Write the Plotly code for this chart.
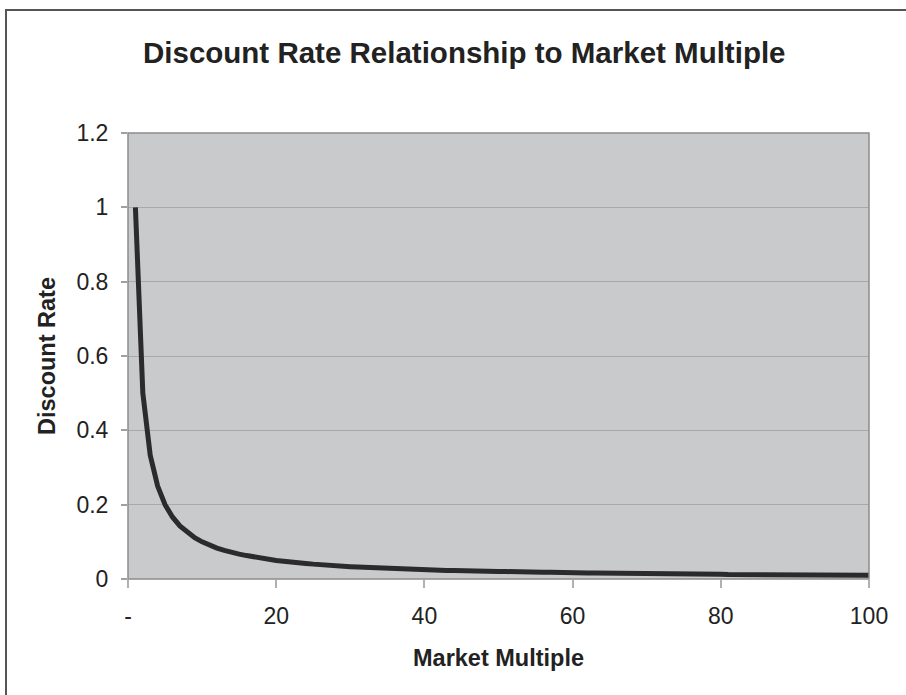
import plotly.graph_objects as go

# Market multiple (x) and the matching discount rate (y)
multiples = list(range(1, 101))
discount_rate = [
    1.0, 0.5, 0.333, 0.25, 0.2, 0.167, 0.143, 0.125, 0.111, 0.1,
    0.091, 0.083, 0.077, 0.071, 0.067, 0.063, 0.059, 0.056, 0.053, 0.05,
    0.048, 0.045, 0.043, 0.042, 0.04, 0.038, 0.037, 0.036, 0.034, 0.033,
    0.032, 0.031, 0.030, 0.029, 0.029, 0.028, 0.027, 0.026, 0.026, 0.025,
    0.024, 0.024, 0.023, 0.023, 0.022, 0.022, 0.021, 0.021, 0.020, 0.020,
    0.020, 0.019, 0.019, 0.019, 0.018, 0.018, 0.018, 0.017, 0.017, 0.017,
    0.016, 0.016, 0.016, 0.016, 0.015, 0.015, 0.015, 0.015, 0.014, 0.014,
    0.014, 0.014, 0.014, 0.014, 0.013, 0.013, 0.013, 0.013, 0.013, 0.013,
    0.012, 0.012, 0.012, 0.012, 0.012, 0.012, 0.011, 0.011, 0.011, 0.011,
    0.011, 0.011, 0.011, 0.011, 0.011, 0.010, 0.010, 0.010, 0.010, 0.010,
]

x_tick_vals = [0, 20, 40, 60, 80, 100]
x_tick_text = ["-", "20", "40", "60", "80", "100"]
y_tick_vals = [0, 0.2, 0.4, 0.6, 0.8, 1.0, 1.2]
y_tick_text = ["0", "0.2", "0.4", "0.6", "0.8", "1", "1.2"]

W, H = 906, 695
ML, MR, MT, MB = 128, 37, 133, 116
PW, PH = W - ML - MR, H - MT - MB

FONT = "Liberation Sans, Arial, sans-serif"
TEXT = "#222222"

fig = go.Figure()
fig.add_trace(go.Scatter(
    x=multiples, y=discount_rate, mode="lines",
    line=dict(color="#2b2b2d", width=5),
    hoverinfo="x+y", showlegend=False,
))

def px_to_paper_x(px):
    return (px - ML) / PW

def px_to_paper_y(py):
    return (H - MB - py) / PH

shapes = [
    # plot-area frame
    dict(type="rect", xref="paper", yref="paper", x0=0, y0=0, x1=1, y1=1,
         line=dict(color="#8c8c8c", width=1.5), layer="above"),
    # outer chart border (left and top edges)
    dict(type="line", xref="paper", yref="paper",
         x0=px_to_paper_x(6), x1=px_to_paper_x(6),
         y0=px_to_paper_y(10), y1=px_to_paper_y(H + 5),
         line=dict(color="#555555", width=2)),
    dict(type="line", xref="paper", yref="paper",
         x0=px_to_paper_x(5), x1=px_to_paper_x(W + 5),
         y0=px_to_paper_y(10), y1=px_to_paper_y(10),
         line=dict(color="#555555", width=2)),
]

annotations = [
    dict(text="<b>Discount Rate Relationship to Market Multiple</b>",
         xref="paper", yref="paper",
         x=px_to_paper_x(464), y=px_to_paper_y(52),
         xanchor="center", yanchor="middle", showarrow=False,
         font=dict(family=FONT, size=29.5, color=TEXT)),
    dict(text="<b>Market Multiple</b>",
         xref="paper", yref="paper",
         x=px_to_paper_x(499), y=px_to_paper_y(658),
         xanchor="center", yanchor="middle", showarrow=False,
         font=dict(family=FONT, size=23.5, color=TEXT)),
    dict(text="<b>Discount Rate</b>", textangle=-90,
         xref="paper", yref="paper",
         x=px_to_paper_x(47), y=px_to_paper_y(356),
         xanchor="center", yanchor="middle", showarrow=False,
         font=dict(family=FONT, size=23.5, color=TEXT)),
]

fig.update_layout(
    width=W, height=H,
    margin=dict(l=ML, r=MR, t=MT, b=MB, pad=0),
    paper_bgcolor="white",
    plot_bgcolor="#c9cacc",
    font=dict(family=FONT, color=TEXT),
    shapes=shapes,
    annotations=annotations,
)

fig.update_xaxes(
    range=[0, 100], tickmode="array", tickvals=x_tick_vals, ticktext=x_tick_text,
    ticks="outside", ticklen=8, tickcolor="#b0b0b0", tickwidth=1.5,
    showgrid=False, zeroline=False, showline=False,
    tickfont=dict(family=FONT, size=23, color=TEXT),
    ticklabelstandoff=8,
)
fig.update_yaxes(
    range=[0, 1.2], tickmode="array", tickvals=y_tick_vals, ticktext=y_tick_text,
    ticks="outside", ticklen=6, tickcolor="#a0a0a0", tickwidth=1.5,
    showgrid=True, gridcolor="#a8a9ab", gridwidth=1.2,
    zeroline=False, showline=False,
    tickfont=dict(family=FONT, size=23, color=TEXT),
    ticklabelstandoff=8,
)

fig.write_html("out.html")
